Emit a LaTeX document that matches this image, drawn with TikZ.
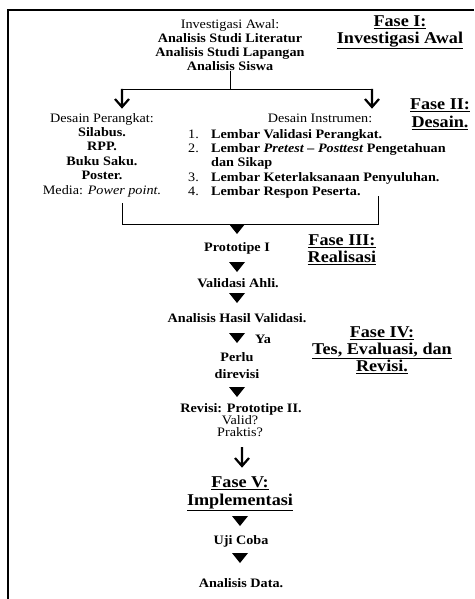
\documentclass[tikz,border=0pt]{standalone}
\usepackage{fontspec}
\setmainfont{Liberation Serif}[FakeStretch=1.1]
\usetikzlibrary{arrows.meta}
\newcommand\tridown[2]{\fill[black] (#1-8,#2) -- (#1+8,#2) -- (#1,#2+10) -- cycle;}
\begin{document}
\begin{tikzpicture}[x=1pt,y=-1pt,
  txt/.style={font=\fontsize{12.9}{14}\selectfont, inner sep=0pt, anchor=base},
  btxt/.style={font=\fontsize{12.9}{14}\selectfont\bfseries, inner sep=0pt, anchor=base},
  listnum/.style={font=\fontsize{12.9}{14}\selectfont, inner sep=0pt, anchor=base west},
  listtxt/.style={font=\fontsize{12.9}{14}\selectfont\bfseries, inner sep=0pt, anchor=base west},
  fase/.style={font=\fontsize{16.5}{17}\selectfont\bfseries, inner sep=0pt, align=center},
  conn/.style={line width=0.9pt},
  openarrow/.style={line width=2.2pt, miter limit=4},
  frame/.style={line width=1.4pt}]
\useasboundingbox (0,0) rectangle (474,599);
\draw[frame] (8,599) -- (8,10) -- (474,10);

% Fase labels
\node[fase] (f1) at (400,32) {\underline{Fase I:}\\\underline{Investigasi Awal}};
\node[fase, font=\fontsize{16.5}{18}\selectfont\bfseries] (f2) at (440,114) {\underline{Fase II:}\\\underline{Desain.}};
\node[fase] (f3) at (342,250) {\underline{Fase III:}\\\underline{Realisasi}};
\node[fase] (f4) at (382,350) {\underline{Fase IV:}\\\underline{Tes, Evaluasi, dan}\\\underline{Revisi.}};
\node[fase, font=\fontsize{16.5}{18}\selectfont\bfseries] (f5) at (240,494) {\underline{Fase V:}\\\underline{Implementasi}};

% Investigasi awal
\node[font=\fontsize{12.9}{14}\selectfont, inner sep=0pt, align=center] (inv) at (230,45)
  {Investigasi Awal:\\\textbf{Analisis Studi Literatur}\\\textbf{Analisis Studi Lapangan}\\\textbf{Analisis Siswa}};
\coordinate (j0) at (230,89);
\coordinate (jl) at (122,89);
\coordinate (jr) at (372,89);
\coordinate (al) at (122,107);
\coordinate (ar) at (372,107);
\draw[conn] (inv.south) -- (j0);
\draw[conn] (jl) -- (jr);
\draw[openarrow] (jl) -- (al) ([xshift=-7pt,yshift=8pt]al) -- (al) -- ([xshift=7pt,yshift=8pt]al);
\draw[openarrow] (jr) -- (ar) ([xshift=-7pt,yshift=8pt]ar) -- (ar) -- ([xshift=7pt,yshift=8pt]ar);

% Desain perangkat
\node[font=\fontsize{12.9}{14.4}\selectfont, inner sep=0pt, align=center] (dp) at (102,155)
  {Desain Perangkat:\\\textbf{Silabus.}\\\textbf{RPP.}\\\textbf{Buku Saku.}\\\textbf{Poster.}\\Media: \textit{Power point.}};

% Desain instrumen
\node[txt] (di) at (320,123) {Desain Instrumen:};
\node[listnum] (n1) at (188,138) {1.};
\node[listtxt] (l1) at (211,138) {Lembar Validasi Perangkat.};
\node[listnum] (n2) at (188,152) {2.};
\node[listtxt] (l2) at (211,152) {Lembar \textit{Pretest -- Posttest} Pengetahuan};
\node[listtxt] (l2b) at (211,166) {dan Sikap};
\node[listnum] (n3) at (188,181) {3.};
\node[listtxt] (l3) at (211,181) {Lembar Keterlaksanaan Penyuluhan.};
\node[listnum] (n4) at (188,195) {4.};
\node[listtxt] (l4) at (211,195) {Lembar Respon Peserta.};

% Bracket
\coordinate (bl) at (122,203);
\coordinate (bll) at (122,224);
\coordinate (brr) at (378,224);
\coordinate (br) at (378,196);
\draw[conn] (bl) -- (bll) -- (brr) -- (br);
\tridown{237}{224}

\node[btxt] (p1) at (237,251) {Prototipe I};
\tridown{237}{262}
\node[btxt] (va) at (238,287) {Validasi Ahli.};
\tridown{237}{293}
\node[btxt] (ah) at (237,322) {Analisis Hasil Validasi.};
\tridown{237}{333}
\node[btxt] (ya) at (263,343) {Ya};
\node[font=\fontsize{12.9}{17}\selectfont\bfseries, inner sep=0pt, align=center] (pd) at (237,366) {Perlu\\direvisi};
\tridown{237}{387}
\node[btxt] (rv) at (241,412) {Revisi: Prototipe II.};
\node[txt] (vd) at (240,424) {Valid?};
\node[txt] (pk) at (240,436) {Praktis?};
\coordinate (a5s) at (242,447);
\coordinate (a5e) at (242,466);
\draw[openarrow] (a5s) -- (a5e) ([xshift=-7pt,yshift=8pt]a5e) -- (a5e) -- ([xshift=7pt,yshift=8pt]a5e);

\tridown{240}{516}
\node[btxt] (uc) at (241,544) {Uji Coba};
\tridown{240}{553}
\node[btxt] (ad) at (241,587) {Analisis Data.};
\end{tikzpicture}
\end{document}
